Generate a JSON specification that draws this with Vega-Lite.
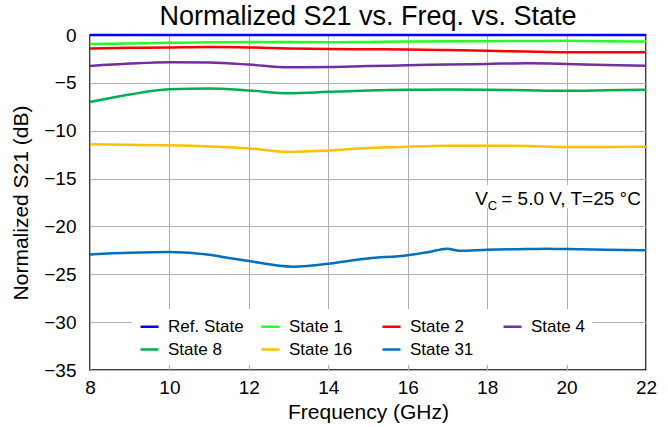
{
  "$schema": "https://vega.github.io/schema/vega-lite/v6.json",
  "width": 556,
  "height": 335,
  "autosize": {"type": "none"},
  "padding": {"left": 90, "top": 35, "right": 22, "bottom": 57},
  "title": {"text": "Normalized S21 vs. Freq. vs. State", "fontSize": 27, "fontWeight": "normal", "font": "Liberation Sans", "color": "black", "offset": -5, "anchor": "middle"},
  "config": {
    "view": {"stroke": "black", "strokeWidth": 1.5},
    "axis": {"grid": true, "gridColor": "#b0b0b0", "gridWidth": 1, "ticks": false, "domain": false, "labelFlush": false, "labelFont": "Liberation Sans", "labelFontSize": 19, "labelColor": "black", "titleFont": "Liberation Sans", "titleFontSize": 21, "titleFontWeight": "normal", "titleColor": "black"},
    "legend": {"labelFont": "Liberation Sans", "labelFontSize": 17, "labelColor": "black"}
  },
  "datasets": {
    "curves": [
      {"f": 8, "s": "Ref. State", "v": 0}, {"f": 10, "s": "Ref. State", "v": 0}, {"f": 12, "s": "Ref. State", "v": 0}, {"f": 14, "s": "Ref. State", "v": 0}, {"f": 16, "s": "Ref. State", "v": 0}, {"f": 18, "s": "Ref. State", "v": 0}, {"f": 20, "s": "Ref. State", "v": 0}, {"f": 22, "s": "Ref. State", "v": 0},
      {"f": 8, "s": "State 1", "v": -0.94}, {"f": 9, "s": "State 1", "v": -0.88}, {"f": 10, "s": "State 1", "v": -0.82}, {"f": 11, "s": "State 1", "v": -0.76}, {"f": 12, "s": "State 1", "v": -0.72}, {"f": 13, "s": "State 1", "v": -0.74}, {"f": 14, "s": "State 1", "v": -0.76}, {"f": 15, "s": "State 1", "v": -0.72}, {"f": 16, "s": "State 1", "v": -0.68}, {"f": 17, "s": "State 1", "v": -0.66}, {"f": 18, "s": "State 1", "v": -0.65}, {"f": 19, "s": "State 1", "v": -0.63}, {"f": 20, "s": "State 1", "v": -0.61}, {"f": 21, "s": "State 1", "v": -0.64}, {"f": 22, "s": "State 1", "v": -0.68},
      {"f": 8, "s": "State 2", "v": -1.40}, {"f": 9, "s": "State 2", "v": -1.34}, {"f": 10, "s": "State 2", "v": -1.30}, {"f": 11, "s": "State 2", "v": -1.26}, {"f": 12, "s": "State 2", "v": -1.30}, {"f": 13, "s": "State 2", "v": -1.40}, {"f": 14, "s": "State 2", "v": -1.47}, {"f": 15, "s": "State 2", "v": -1.49}, {"f": 16, "s": "State 2", "v": -1.51}, {"f": 17, "s": "State 2", "v": -1.58}, {"f": 18, "s": "State 2", "v": -1.65}, {"f": 19, "s": "State 2", "v": -1.73}, {"f": 20, "s": "State 2", "v": -1.80}, {"f": 21, "s": "State 2", "v": -1.81}, {"f": 22, "s": "State 2", "v": -1.80},
      {"f": 8, "s": "State 4", "v": -3.24}, {"f": 9, "s": "State 4", "v": -2.99}, {"f": 10, "s": "State 4", "v": -2.84}, {"f": 11, "s": "State 4", "v": -2.88}, {"f": 12, "s": "State 4", "v": -3.09}, {"f": 13, "s": "State 4", "v": -3.38}, {"f": 14, "s": "State 4", "v": -3.35}, {"f": 15, "s": "State 4", "v": -3.25}, {"f": 16, "s": "State 4", "v": -3.17}, {"f": 17, "s": "State 4", "v": -3.08}, {"f": 18, "s": "State 4", "v": -3.02}, {"f": 19, "s": "State 4", "v": -2.95}, {"f": 20, "s": "State 4", "v": -3.02}, {"f": 21, "s": "State 4", "v": -3.13}, {"f": 22, "s": "State 4", "v": -3.20},
      {"f": 8, "s": "State 8", "v": -7.01}, {"f": 9, "s": "State 8", "v": -6.22}, {"f": 10, "s": "State 8", "v": -5.68}, {"f": 11, "s": "State 8", "v": -5.58}, {"f": 12, "s": "State 8", "v": -5.79}, {"f": 13, "s": "State 8", "v": -6.08}, {"f": 14, "s": "State 8", "v": -5.94}, {"f": 15, "s": "State 8", "v": -5.80}, {"f": 16, "s": "State 8", "v": -5.72}, {"f": 17, "s": "State 8", "v": -5.70}, {"f": 18, "s": "State 8", "v": -5.72}, {"f": 19, "s": "State 8", "v": -5.78}, {"f": 20, "s": "State 8", "v": -5.83}, {"f": 21, "s": "State 8", "v": -5.78}, {"f": 22, "s": "State 8", "v": -5.72},
      {"f": 8, "s": "State 16", "v": -11.42}, {"f": 9, "s": "State 16", "v": -11.47}, {"f": 10, "s": "State 16", "v": -11.53}, {"f": 11, "s": "State 16", "v": -11.65}, {"f": 12, "s": "State 16", "v": -11.85}, {"f": 13, "s": "State 16", "v": -12.22}, {"f": 14, "s": "State 16", "v": -12.06}, {"f": 15, "s": "State 16", "v": -11.80}, {"f": 16, "s": "State 16", "v": -11.67}, {"f": 17, "s": "State 16", "v": -11.58}, {"f": 18, "s": "State 16", "v": -11.56}, {"f": 19, "s": "State 16", "v": -11.60}, {"f": 20, "s": "State 16", "v": -11.71}, {"f": 21, "s": "State 16", "v": -11.70}, {"f": 22, "s": "State 16", "v": -11.67},
      {"f": 8, "s": "State 31", "v": -22.93}, {"f": 9, "s": "State 31", "v": -22.76}, {"f": 10, "s": "State 31", "v": -22.68}, {"f": 11, "s": "State 31", "v": -22.95}, {"f": 11.5, "s": "State 31", "v": -23.3}, {"f": 12, "s": "State 31", "v": -23.62}, {"f": 13.1, "s": "State 31", "v": -24.2}, {"f": 14, "s": "State 31", "v": -23.9}, {"f": 14.5, "s": "State 31", "v": -23.6}, {"f": 15, "s": "State 31", "v": -23.35}, {"f": 16, "s": "State 31", "v": -23.01}, {"f": 16.5, "s": "State 31", "v": -22.69}, {"f": 17, "s": "State 31", "v": -22.33}, {"f": 17.3, "s": "State 31", "v": -22.55}, {"f": 18, "s": "State 31", "v": -22.44}, {"f": 19, "s": "State 31", "v": -22.37}, {"f": 19.5, "s": "State 31", "v": -22.33}, {"f": 20, "s": "State 31", "v": -22.37}, {"f": 21, "s": "State 31", "v": -22.44}, {"f": 22, "s": "State 31", "v": -22.48}
    ],
    "note": [{"f": 17.7, "f1": 17.55, "f2": 21.9, "v": -17.76, "v1": -15.7, "v2": -18.1}]
  },
  "layer": [
    {
      "data": {"name": "note"},
      "mark": {"type": "rect", "fill": "white"},
      "encoding": {
        "x": {"field": "f1", "type": "quantitative", "scale": {"domain": [8, 22], "nice": false}, "axis": {"values": [8, 10, 12, 14, 16, 18, 20, 22], "title": "Frequency (GHz)", "labelPadding": 8, "titlePadding": 4}},
        "x2": {"field": "f2"},
        "y": {"field": "v1", "type": "quantitative", "scale": {"domain": [-35, 0], "nice": false}, "axis": {"values": [-35, -30, -25, -20, -15, -10, -5, 0], "title": "Normalized S21 (dB)", "labelPadding": 14, "titlePadding": 12}},
        "y2": {"field": "v2"}
      }
    },
    {
      "data": {"name": "curves"},
      "mark": {"type": "line", "strokeWidth": 2.5, "interpolate": "monotone"},
      "encoding": {
        "x": {"field": "f", "type": "quantitative"},
        "y": {"field": "v", "type": "quantitative"},
        "color": {
          "field": "s", "type": "nominal",
          "scale": {"domain": ["Ref. State", "State 1", "State 2", "State 4", "State 8", "State 16", "State 31"], "range": ["#0000FF", "#22FF22", "#FF0000", "#7030A0", "#00B050", "#FFC000", "#0070C0"]},
          "legend": {"title": null, "orient": "none", "direction": "horizontal", "legendX": 42, "legendY": 274, "columns": 4, "gridAlign": "all", "symbolType": "stroke", "symbolSize": 324, "symbolStrokeWidth": 2.5, "labelOffset": 8, "fillColor": "white", "padding": 7, "columnPadding": 12, "rowPadding": 4}
        },
        "order": {"field": "f", "type": "quantitative"}
      }
    },
    {
      "data": {"name": "note"},
      "mark": {"type": "text", "text": "V", "align": "left", "baseline": "alphabetic", "font": "Liberation Sans", "fontSize": 19, "color": "black"},
      "encoding": {"x": {"field": "f", "type": "quantitative"}, "y": {"field": "v", "type": "quantitative"}}
    },
    {
      "data": {"name": "note"},
      "mark": {"type": "text", "text": "C", "align": "left", "baseline": "alphabetic", "font": "Liberation Sans", "fontSize": 13, "color": "black", "dx": 12.5, "dy": 5},
      "encoding": {"x": {"field": "f", "type": "quantitative"}, "y": {"field": "v", "type": "quantitative"}}
    },
    {
      "data": {"name": "note"},
      "mark": {"type": "text", "text": "= 5.0 V, T=25 °C", "align": "left", "baseline": "alphabetic", "font": "Liberation Sans", "fontSize": 19, "color": "black", "dx": 26},
      "encoding": {"x": {"field": "f", "type": "quantitative"}, "y": {"field": "v", "type": "quantitative"}}
    }
  ]
}
